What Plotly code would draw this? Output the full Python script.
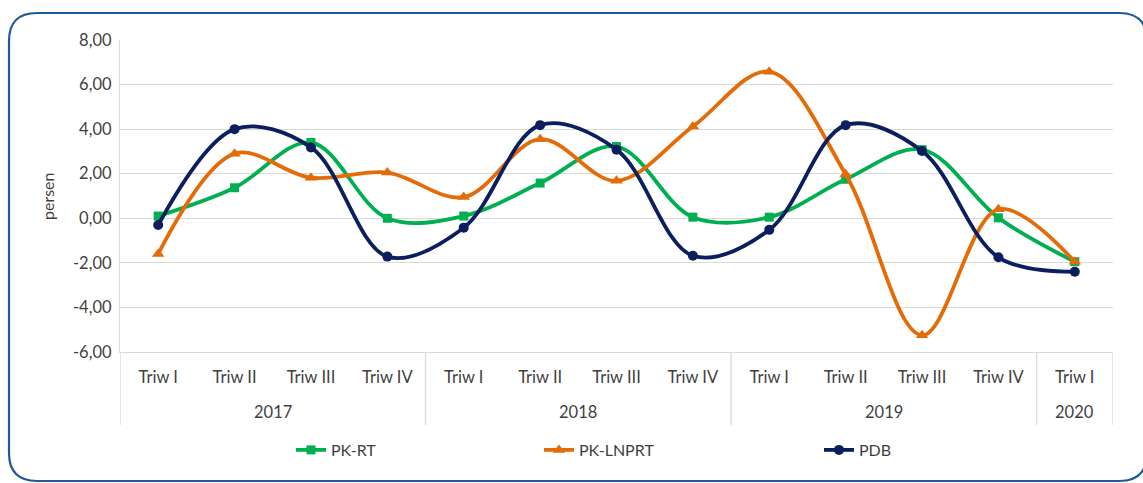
import plotly.graph_objects as go

years = ["2017"] * 4 + ["2018"] * 4 + ["2019"] * 4 + ["2020"]
quarters = ["Triw I", "Triw II", "Triw III", "Triw IV"] * 3 + ["Triw I"]

pk_rt = [0.10, 1.37, 3.40, 0.00, 0.10, 1.58, 3.22, 0.05, 0.05, 1.75, 3.08, 0.02, -1.95]
pk_lnprt = [-1.60, 2.90, 1.82, 2.05, 0.95, 3.55, 1.68, 4.12, 6.58, 1.98, -5.25, 0.40, -1.95]
pdb = [-0.30, 4.00, 3.18, -1.72, -0.42, 4.18, 3.08, -1.68, -0.52, 4.18, 3.02, -1.75, -2.40]

y_ticks = [-6, -4, -2, 0, 2, 4, 6, 8]
y_tick_text = [f"{v:.2f}".replace(".", ",") for v in y_ticks]

W, H = 1143, 483
PL, PR, PT, PB = 120, 1113, 40, 352          # plot area in page pixels
L, T, R, B = PL, PT, W - PR, H - PB
PW, PH = PR - PL, PB - PT


def px(x):  # page pixel x -> paper
    return (x - PL) / PW


def py(y):  # page pixel y -> paper
    return (PB - y) / PH


FONT = "Lato, Carlito, Calibri, sans-serif"
TXT = "#3F3F3F"
GRID = "#D9D9D9"

idx = list(range(len(quarters)))

series = [
    ("PK-RT", pk_rt, "#00B050", "square", 9, "legend", 330),
    ("PK-LNPRT", pk_lnprt, "#E36C09", "triangle-up", 11, "legend2", 578),
    ("PDB", pdb, "#0B1F5E", "circle", 10, "legend3", 858),
]

fig = go.Figure()
layout_legends = {}
for name, vals, color, sym, msize, lg, text_x in series:
    fig.add_trace(go.Scatter(
        x=idx, y=vals, name=name, mode="lines+markers",
        line=dict(color=color, width=3.8, shape="spline", smoothing=1.0),
        marker=dict(color=color, symbol=sym, size=msize),
        legend=lg,
    ))
    layout_legends[lg] = dict(
        x=px(text_x - 39), xanchor="left", y=py(450), yanchor="middle",
        orientation="h", bgcolor="rgba(0,0,0,0)",
        font=dict(family=FONT, size=16, color=TXT),
    )

# group labels and dividers
groups = []
for i, yr in enumerate(years):
    if not groups or groups[-1][0] != yr:
        groups.append([yr, i, i])
    else:
        groups[-1][2] = i

shapes = []
annotations = []
bounds = sorted({g[1] - 0.5 for g in groups} | {groups[-1][2] + 0.5})
for b in bounds:
    shapes.append(dict(type="line", xref="x", yref="paper", x0=b, x1=b,
                       y0=0, y1=py(425), line=dict(color=GRID, width=1.3)))
for yr, a, b in groups:
    annotations.append(dict(text=yr, xref="x", yref="paper", x=(a + b) / 2,
                            y=py(412), yanchor="middle", showarrow=False,
                            font=dict(family=FONT, size=16.5, color=TXT)))

# rounded border
x0, y0, x1, y1, r = 9, 13, 1147, 481, 28
path = (
    f"M {px(x0 + r)},{py(y0)} L {px(x1 - r)},{py(y0)} "
    f"Q {px(x1)},{py(y0)} {px(x1)},{py(y0 + r)} "
    f"L {px(x1)},{py(y1 - r)} Q {px(x1)},{py(y1)} {px(x1 - r)},{py(y1)} "
    f"L {px(x0 + r)},{py(y1)} Q {px(x0)},{py(y1)} {px(x0)},{py(y1 - r)} "
    f"L {px(x0)},{py(y0 + r)} Q {px(x0)},{py(y0)} {px(x0 + r)},{py(y0)} Z"
)
shapes.append(dict(type="path", xref="paper", yref="paper", path=path,
                   line=dict(color="#1F5A96", width=2.2), layer="below"))

annotations.append(dict(text="persen", xref="paper", yref="paper",
                        x=px(47), y=0.5, xanchor="center", yanchor="middle",
                        textangle=-90, showarrow=False,
                        font=dict(family=FONT, size=16, color=TXT)))

fig.update_layout(
    width=W, height=H,
    margin=dict(l=L, r=R, t=T, b=B, autoexpand=False),
    plot_bgcolor="white", paper_bgcolor="white",
    font=dict(family=FONT, size=16, color=TXT),
    showlegend=True,
    shapes=shapes,
    annotations=annotations,
    **layout_legends,
)
fig.update_yaxes(
    range=[-6, 8], tickvals=y_ticks, ticktext=y_tick_text,
    showgrid=True, gridcolor=GRID, gridwidth=1.3, zeroline=False,
    showline=True, linecolor=GRID, linewidth=1.3,
    ticks="", ticklabelstandoff=4,
    tickfont=dict(family=FONT, size=16.5, color=TXT),
)
fig.update_xaxes(
    range=[-0.5, len(quarters) - 0.5],
    tickvals=idx, ticktext=quarters,
    showline=True, linecolor=GRID, linewidth=1.3,
    ticks="", showgrid=False, zeroline=False, ticklabelstandoff=10,
    tickfont=dict(family=FONT, size=16.5, color=TXT),
)

fig.write_html(
    "out.html",
    config={"displayModeBar": False},
    post_script="document.body.style.margin='0';document.body.style.overflow='hidden';",
)
